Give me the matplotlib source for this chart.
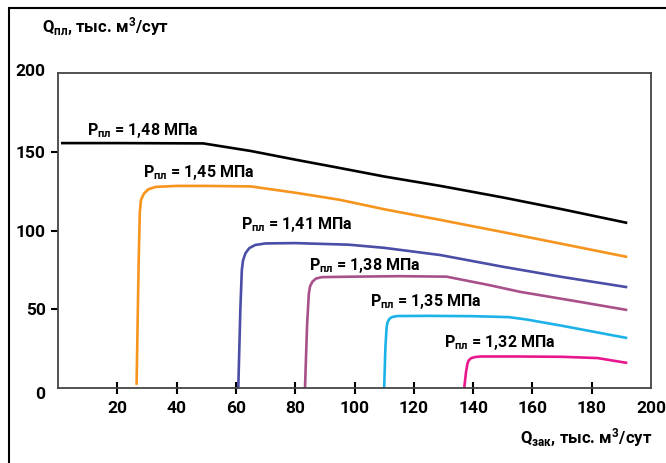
import numpy as np
import matplotlib
matplotlib.use("Agg")
import matplotlib.pyplot as plt
import matplotlib.transforms as mtransforms
from matplotlib.patches import Rectangle

plt.rcParams['font.family'] = ['Roboto', 'DejaVu Sans']
plt.rcParams['font.weight'] = 'bold'
plt.rcParams['mathtext.fontset'] = 'custom'
plt.rcParams['mathtext.rm'] = 'Roboto:bold'
plt.rcParams['mathtext.it'] = 'Roboto:bold'
plt.rcParams['mathtext.bf'] = 'Roboto:bold'

# curve data (Q_зак, Q_пл), тыс. м3/сут
pressures = ["1,48", "1,45", "1,41", "1,38", "1,35", "1,32"]
colors = ["#000000", "#f7941d", "#4a4ea6", "#a8508a", "#1cb2e8", "#e8188c"]

x148 = [1, 20, 49, 65, 80, 95, 110, 129, 150, 170, 192]
y148 = [155.5, 155.5, 155.3, 150.5, 145, 139.7, 134.3, 128.3, 121, 113.5, 104.8]

x145 = [26.5, 27.2, 27.6, 28.0, 29.0, 30.5, 33, 40, 50, 65, 80, 95, 110, 129, 150, 170, 192]
y145 = [2, 80, 112, 119.5, 123.5, 126.2, 127.7, 128.3, 128.3, 128, 124, 119.5, 113.5, 106.7, 99, 91.5, 83.2]

x141 = [60.8, 61.5, 62.0, 62.4, 63.2, 64.5, 66.5, 70, 80, 98, 110, 129, 150, 170, 192]
y141 = [0, 50, 75, 81, 85.5, 88.8, 90.8, 91.8, 92, 91, 89, 84.4, 77, 70.5, 64]

x138 = [83.3, 84.0, 84.6, 85.0, 85.8, 87.0, 89, 100, 115, 131, 145, 156, 175, 192]
y138 = [0, 40, 60, 64.5, 67.5, 69.5, 70.4, 70.7, 71, 70.7, 65.5, 61, 55, 49.5]

x135 = [110, 110.4, 110.8, 111.1, 111.7, 112.7, 114.5, 125, 140, 152, 158, 170, 192]
y135 = [0, 25, 38, 41.5, 43.8, 45.1, 45.7, 45.8, 45.6, 45, 43.5, 39.5, 31.7]

x132 = [137, 137.6, 138.1, 138.5, 139.3, 140.5, 142.5, 155, 170, 182, 192]
y132 = [0, 10, 15.5, 17.5, 18.9, 19.6, 20, 20, 19.8, 19, 15.9]

xs = [x148, x145, x141, x138, x135, x132]
ys = [y148, y145, y141, y138, y135, y132]

# label anchor (left edge, vertical center) in data units
label_x = [9.8, 28.7, 61.7, 84.7, 105.2, 130.2]
label_y = [163.8, 137, 103.5, 77.5, 55.2, 28.6]

fig = plt.figure(figsize=(6.66, 4.63), dpi=100)
ax = fig.add_axes([0.0871, 0.162, 0.8904, 0.6803])

for x, y, c in zip(xs, ys, colors):
    ax.plot(x, y, color=c, lw=1.9, solid_joinstyle='round', solid_capstyle='butt')

for p, lx, ly in zip(pressures, label_x, label_y):
    ax.text(lx, ly, r"P$_{\mathrm{пл}}$ = " + p + " МПа", fontsize=11.5,
            fontweight='bold', ha='left', va='center')

ax.set_xlim(0, 200)
ax.set_ylim(0, 200)
ax.set_xticks(range(20, 201, 20))
ax.set_yticks([0, 50, 100, 150, 200])
ax.tick_params(axis='x', direction='inout', length=9, width=1.5, pad=5, labelsize=12.5)
ax.tick_params(axis='y', direction='out', length=5, width=1.5, pad=4, labelsize=12.5)
ax.xaxis.get_major_ticks()[-1].tick1line.set_visible(False)
ax.yaxis.get_major_ticks()[0].tick1line.set_visible(False)
ax.yaxis.get_major_ticks()[-1].tick1line.set_visible(False)
for lab in ax.get_xticklabels() + ax.get_yticklabels():
    lab.set_fontweight('bold')

# nudge the "0" and "200" labels like in the original
ylabs = ax.get_yticklabels()
ylabs[0].set_transform(ylabs[0].get_transform() +
                       mtransforms.ScaledTranslation(0, -5 / 100, fig.dpi_scale_trans))
ylabs[-1].set_transform(ylabs[-1].get_transform() +
                        mtransforms.ScaledTranslation(0, 3 / 100, fig.dpi_scale_trans))

for s in ax.spines.values():
    s.set_color('#444444')
    s.set_linewidth(1.3)

fig.text(0.063, 0.942, r"Q$_{\mathrm{пл}}$, тыс. м$^{3}$/сут", fontsize=12,
         fontweight='bold', ha='left', va='center')
fig.text(0.979, 0.056, r"Q$_{\mathrm{зак}}$, тыс. м$^{3}$/сут", fontsize=12,
         fontweight='bold', ha='right', va='center')

fig.add_artist(Rectangle((0.0135, -0.2), 1.2, 0.9827 + 0.2, transform=fig.transFigure,
                         fill=False, lw=1.5, edgecolor='black', clip_on=False))

fig.savefig("out.png", dpi=100)
